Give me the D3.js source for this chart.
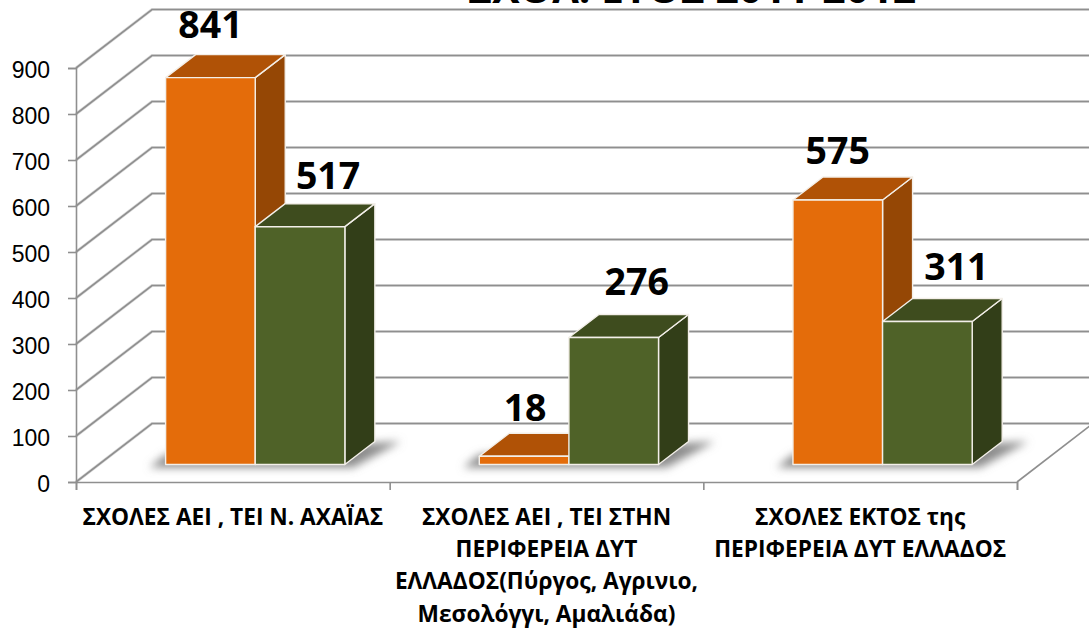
<!DOCTYPE html>
<html>
<head>
<meta charset="utf-8">
<script src="https://cdnjs.cloudflare.com/ajax/libs/d3/7.8.5/d3.min.js"></script>
<style>
  html, body { margin: 0; padding: 0; background: #fff; overflow: hidden; }
  svg { display: block; font-family: "Open Sans", "Noto Sans", sans-serif; }
</style>
</head>
<body>
<svg id="chart" width="1089" height="628"></svg>
<script>
const titleText = 'ΣΧΟΛ. ΕΤΟΣ 2011-2012';
const categories = ['achaia', 'periferia', 'ektos'];
const categoryLines = [
    ['ΣΧΟΛΕΣ ΑΕΙ , ΤΕΙ Ν. ΑΧΑΪΑΣ'],
    ['ΣΧΟΛΕΣ ΑΕΙ , ΤΕΙ ΣΤΗΝ', 'ΠΕΡΙΦΕΡΕΙΑ ΔΥΤ', 'ΕΛΛΑΔΟΣ(Πύργος, Αγρινιο,', 'Μεσολόγγι, Αμαλιάδα)'],
    ['ΣΧΟΛΕΣ ΕΚΤΟΣ της', 'ΠΕΡΙΦΕΡΕΙΑ ΔΥΤ ΕΛΛΑΔΟΣ']
];
const seriesNames = ['a', 'b'];
const seriesA = [841, 18, 575];
const seriesB = [517, 276, 311];
const yTicks = [0, 100, 200, 300, 400, 500, 600, 700, 800, 900];

const svg = d3.select('#chart');

// plot box of the fake 3D chart
const plotLeft = 76, plotRight = 1017, plotTop = 68, plotBottom = 482;
const wallDx = 76, wallDy = -58.5;
const floorRise = 17.5;
const depthDx = 30, depthDy = -23;

const yScale = d3.scaleLinear().domain([0, 900]).range([plotBottom, plotTop]);
const xScale = d3.scaleBand().domain(categories).range([plotLeft, plotRight]);
const barWidth = xScale.bandwidth() / 3.5;
const xInner = d3.scaleBand().domain(seriesNames).range([barWidth, barWidth * 3]);
const xEdges = d3.scaleLinear().domain([0, 3]).range([plotLeft, plotRight]);

const palette = {
    a: { front: '#e46c0a', top: '#b05206', side: '#954705' },
    b: { front: '#4f6228', top: '#3e4c1e', side: '#323e18' }
};

const defs = svg.append('defs');
defs.append('filter').attr('id', 'blur').attr('x', '-20%').attr('y', '-50%').attr('width', '140%').attr('height', '200%')
    .append('feGaussianBlur').attr('stdDeviation', 4);

// Title, cut off by the top edge in the original
svg.append('text')
    .attr('x', 692).attr('y', 3)
    .attr('text-anchor', 'middle')
    .attr('font-size', '41px').attr('font-weight', 700).attr('fill', '#000')
    .text(titleText);

// Grid: one bent line per tick, side wall then back wall
const gridPath = d => {
    const y = yScale(d);
    return `M${plotLeft},${y}L${plotLeft + wallDx},${y + wallDy}L1089,${y + wallDy}`;
};
svg.append('g').selectAll('path').data(yTicks).enter().append('path')
    .attr('d', gridPath).attr('fill', 'none')
    .attr('stroke', '#dcdcdc').attr('stroke-width', 3);
svg.append('g').selectAll('path').data(yTicks).enter().append('path')
    .attr('d', gridPath).attr('fill', 'none')
    .attr('stroke', '#8f8f8f').attr('stroke-width', 1.6);

// Floor right edge
svg.append('path')
    .attr('d', `M${plotRight},${plotBottom}L${plotRight + wallDx},${plotBottom + wallDy}`)
    .attr('stroke', '#8f8f8f').attr('stroke-width', 1.6);

// Y Axis
const yAxis = svg.append('g').attr('transform', `translate(${plotLeft},0)`)
    .call(d3.axisLeft(yScale).tickValues(yTicks).tickSize(8).tickPadding(18));
yAxis.selectAll('line').attr('stroke', '#8f8f8f').attr('stroke-width', 1.6);
yAxis.select('.domain').attr('stroke', '#8f8f8f').attr('stroke-width', 1.6);
yAxis.selectAll('text').attr('font-family', 'inherit').attr('font-size', '23px').attr('dy', '0.4em').attr('fill', '#000');

// X Axis, ticks sit between the groups
const xAxis = svg.append('g').attr('transform', `translate(0,${plotBottom})`)
    .call(d3.axisBottom(xEdges).tickValues([0, 1, 2, 3]).tickSize(8).tickFormat(''));
xAxis.selectAll('line').attr('stroke', '#8f8f8f').attr('stroke-width', 1.6);
xAxis.select('.domain').attr('stroke', '#8f8f8f').attr('stroke-width', 1.6);

// Category labels
categories.forEach((c, i) => {
    const cx = xScale(c) + xScale.bandwidth() / 2;
    categoryLines[i].forEach((line, j) => {
        svg.append('text')
            .attr('x', cx).attr('y', 525 + j * 32.2)
            .attr('text-anchor', 'middle')
            .attr('font-size', '22.7px').attr('font-weight', 700).attr('fill', '#000')
            .text(line);
    });
});

const barY = v => yScale(v) - floorRise;
const groupG = svg.append('g');

// Soft shadows on the floor
categories.forEach(c => {
    const x0 = xScale(c) + xInner('a');
    const x1 = xScale(c) + xInner('b') + xInner.bandwidth();
    const base = plotBottom - floorRise;
    groupG.append('path')
        .attr('d', `M${x0 - 16},${base + 3}L${x0},${base - 10}L${x1 + depthDx + 26},${base + depthDy}L${x1 + 8},${base + 3}Z`)
        .attr('fill', '#8c8c8c').attr('filter', 'url(#blur)');
});

// Bars: orange first so the green front covers its side
const drawBars = (name, values) => {
    const col = palette[name];
    values.forEach((v, i) => {
        const x = xScale(categories[i]) + xInner(name);
        const w = xInner.bandwidth();
        const y = barY(v), y0 = barY(0);
        const g = groupG.append('g').attr('stroke', '#f3efe9').attr('stroke-width', 1.4).attr('stroke-linejoin', 'round');
        g.append('path').attr('fill', col.side)
            .attr('d', `M${x + w},${y}L${x + w + depthDx},${y + depthDy}L${x + w + depthDx},${y0 + depthDy}L${x + w},${y0}Z`);
        g.append('path').attr('fill', col.top)
            .attr('d', `M${x},${y}L${x + depthDx},${y + depthDy}L${x + w + depthDx},${y + depthDy}L${x + w},${y}Z`);
        g.append('rect').attr('fill', col.front)
            .attr('x', x).attr('y', y).attr('width', w).attr('height', y0 - y);
    });
};
drawBars('a', seriesA);
drawBars('b', seriesB);

// Value labels
const labelNudge = {
    a: [[0, -40], [1, -35], [0, -36]],
    b: [[28, -38], [23, -43], [29, -41]]
};
[['a', seriesA], ['b', seriesB]].forEach(([name, values]) => {
    values.forEach((v, i) => {
        const x = xScale(categories[i]) + xInner(name) + xInner.bandwidth() / 2;
        svg.append('text')
            .attr('x', x + labelNudge[name][i][0])
            .attr('y', barY(v) + labelNudge[name][i][1])
            .attr('text-anchor', 'middle')
            .attr('font-size', '37.5px').attr('font-weight', 700).attr('fill', '#000')
            .text(v);
    });
});
</script>
</body>
</html>
